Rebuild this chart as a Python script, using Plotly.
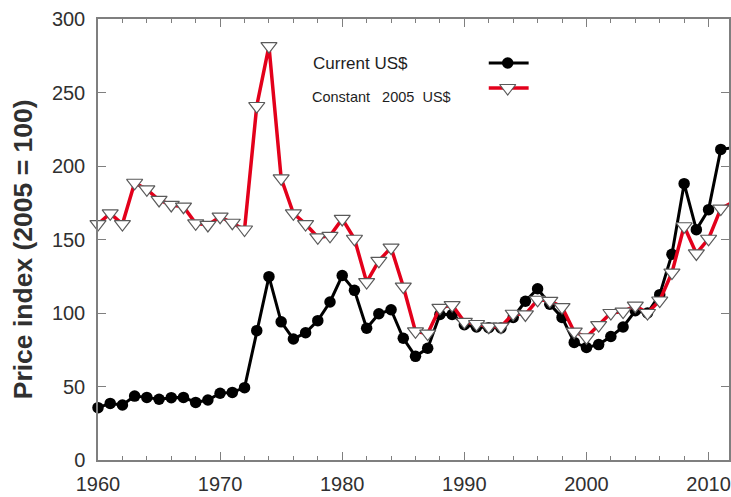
import plotly.graph_objects as go

# Annual commodity price index, 2005 = 100
years = list(range(1960, 2013))

current_usd = [
    35.6, 38.5, 37.4, 43.5, 42.6, 41.3, 42.4, 42.6, 39.2, 40.8,   # 1960s
    45.4, 46.0, 49.2, 88.0, 124.7, 94.0, 82.3, 86.6, 94.8, 107.5,  # 1970s
    125.5, 115.4, 89.6, 99.5, 102.2, 82.8, 70.5, 76.0, 99.0, 99.0,  # 1980s
    92.0, 90.5, 90.0, 89.8, 97.0, 108.0, 116.5, 106.0, 97.0, 80.0,  # 1990s
    76.5, 78.5, 84.0, 90.5, 101.5, 100.0, 112.5, 140.0, 188.0, 156.7,  # 2000s
    170.3, 211.3, 212.5,
]

constant_2005_usd = [
    160.5, 167.8, 160.5, 188.6, 184.1, 176.9, 173.5, 172.3, 161.0, 159.9,
    165.5, 161.4, 156.8, 240.8, 281.6, 191.6, 167.8, 160.5, 151.5, 152.5,
    164.0, 150.5, 121.0, 135.5, 144.5, 118.0, 87.5, 86.0, 103.5, 105.4,
    94.0, 92.5, 90.7, 90.7, 99.5, 99.0, 109.0, 108.3, 104.0, 87.3,
    83.5, 91.8, 100.0, 101.0, 105.0, 100.0, 108.5, 127.5, 159.0, 140.5,
    150.5, 171.0, 175.5,
]

series_names = ["Current US$", "Constant\u00a0\u00a0\u00a02005\u00a0\u00a0US$"]
y_title = "Price index (2005 = 100)"

y_ticks = [0, 50, 100, 150, 200, 250, 300]
x_ticks = [1960, 1970, 1980, 1990, 2000, 2010]

W, H = 731, 497
L, R, T, B = 98, 0, 19, 37
plot_w, plot_h = W - L - R, H - T - B
px_per_year = 12.25
x_max = 1960 + plot_w / px_per_year

black = "#000000"
red = "#e3001b"
edge = "#5a5a5a"
axis_col = "#7f7f7f"
text_col = "#303030"
font = "Liberation Sans, Arial, sans-serif"

fig = go.Figure()

fig.add_trace(go.Scatter(
    x=years, y=current_usd, mode="lines+markers", name=series_names[0],
    line=dict(color=black, width=3),
    marker=dict(symbol="circle", size=11.5, color=black),
    cliponaxis=False, showlegend=False,
))
fig.add_trace(go.Scatter(
    x=years, y=constant_2005_usd, mode="lines+markers", name=series_names[1],
    line=dict(color=red, width=3.5),
    marker=dict(symbol="triangle-down", size=14, color="white",
                line=dict(color=edge, width=1.2)),
    cliponaxis=False, showlegend=False,
))

# Legend keys, drawn on a pixel-based overlay axis
key_x = [490, 509, 530]
fig.add_trace(go.Scatter(
    x=key_x, y=[63, 63, 63], xaxis="x2", yaxis="y2", mode="lines",
    line=dict(color=black, width=3), showlegend=False, hoverinfo="skip",
))
fig.add_trace(go.Scatter(
    x=[key_x[1]], y=[63], xaxis="x2", yaxis="y2", mode="markers",
    marker=dict(symbol="circle", size=11.5, color=black),
    showlegend=False, hoverinfo="skip",
))
fig.add_trace(go.Scatter(
    x=key_x, y=[88, 88, 88], xaxis="x2", yaxis="y2", mode="lines",
    line=dict(color=red, width=3.5), showlegend=False, hoverinfo="skip",
))
fig.add_trace(go.Scatter(
    x=[key_x[1]], y=[88], xaxis="x2", yaxis="y2", mode="markers",
    marker=dict(symbol="triangle-down", size=14, color="white",
                line=dict(color=edge, width=1.2)),
    showlegend=False, hoverinfo="skip",
))

fig.add_annotation(x=312, y=63, xref="x2", yref="y2", text=series_names[0],
                   showarrow=False, xanchor="left", yanchor="middle",
                   font=dict(family=font, size=17, color="#1e1e1e"))
fig.add_annotation(x=311, y=97, xref="x2", yref="y2", text=series_names[1],
                   showarrow=False, xanchor="left", yanchor="middle",
                   font=dict(family=font, size=14.5, color="#1e1e1e"))

# Vertical axis title, placed in paper units left of the plot area
title_px = (23, 249)
fig.add_annotation(x=(title_px[0] - L) / plot_w, y=(H - B - title_px[1]) / plot_h,
                   xref="paper", yref="paper",
                   text="<b>" + y_title + "</b>", textangle=-90,
                   showarrow=False, xanchor="center", yanchor="middle",
                   font=dict(family=font, size=26.5, color=text_col))

fig.update_layout(
    width=W, height=H,
    margin=dict(l=L, r=R, t=T, b=B, pad=0),
    paper_bgcolor="white", plot_bgcolor="white",
    font=dict(family=font, color=text_col),
    xaxis=dict(
        range=[1960, x_max], tickvals=x_ticks, ticktext=[str(v) for v in x_ticks],
        ticks="inside", ticklen=8, tickwidth=1.3, tickcolor=axis_col,
        minor=dict(dtick=2, tick0=1960, ticks="inside", ticklen=4,
                   tickwidth=1.1, tickcolor=axis_col, showgrid=False),
        showline=True, linecolor=axis_col, linewidth=1.5, mirror="allticks",
        showgrid=False, zeroline=False,
        tickfont=dict(family=font, size=20, color=text_col),
        ticklabelstandoff=5,
    ),
    yaxis=dict(
        range=[0, 300], tickvals=y_ticks, ticks="inside", ticklen=8,
        tickwidth=1.3, tickcolor=axis_col,
        showline=True, linecolor=axis_col, linewidth=1.5, mirror="allticks",
        showgrid=False, zeroline=False,
        tickfont=dict(family=font, size=20, color=text_col),
        ticklabelstandoff=7,
    ),
    xaxis2=dict(range=[L, W - R], overlaying="x", visible=False, fixedrange=True),
    yaxis2=dict(range=[H - B, T], overlaying="y", visible=False, fixedrange=True),
)

fig.write_html("out.html")
